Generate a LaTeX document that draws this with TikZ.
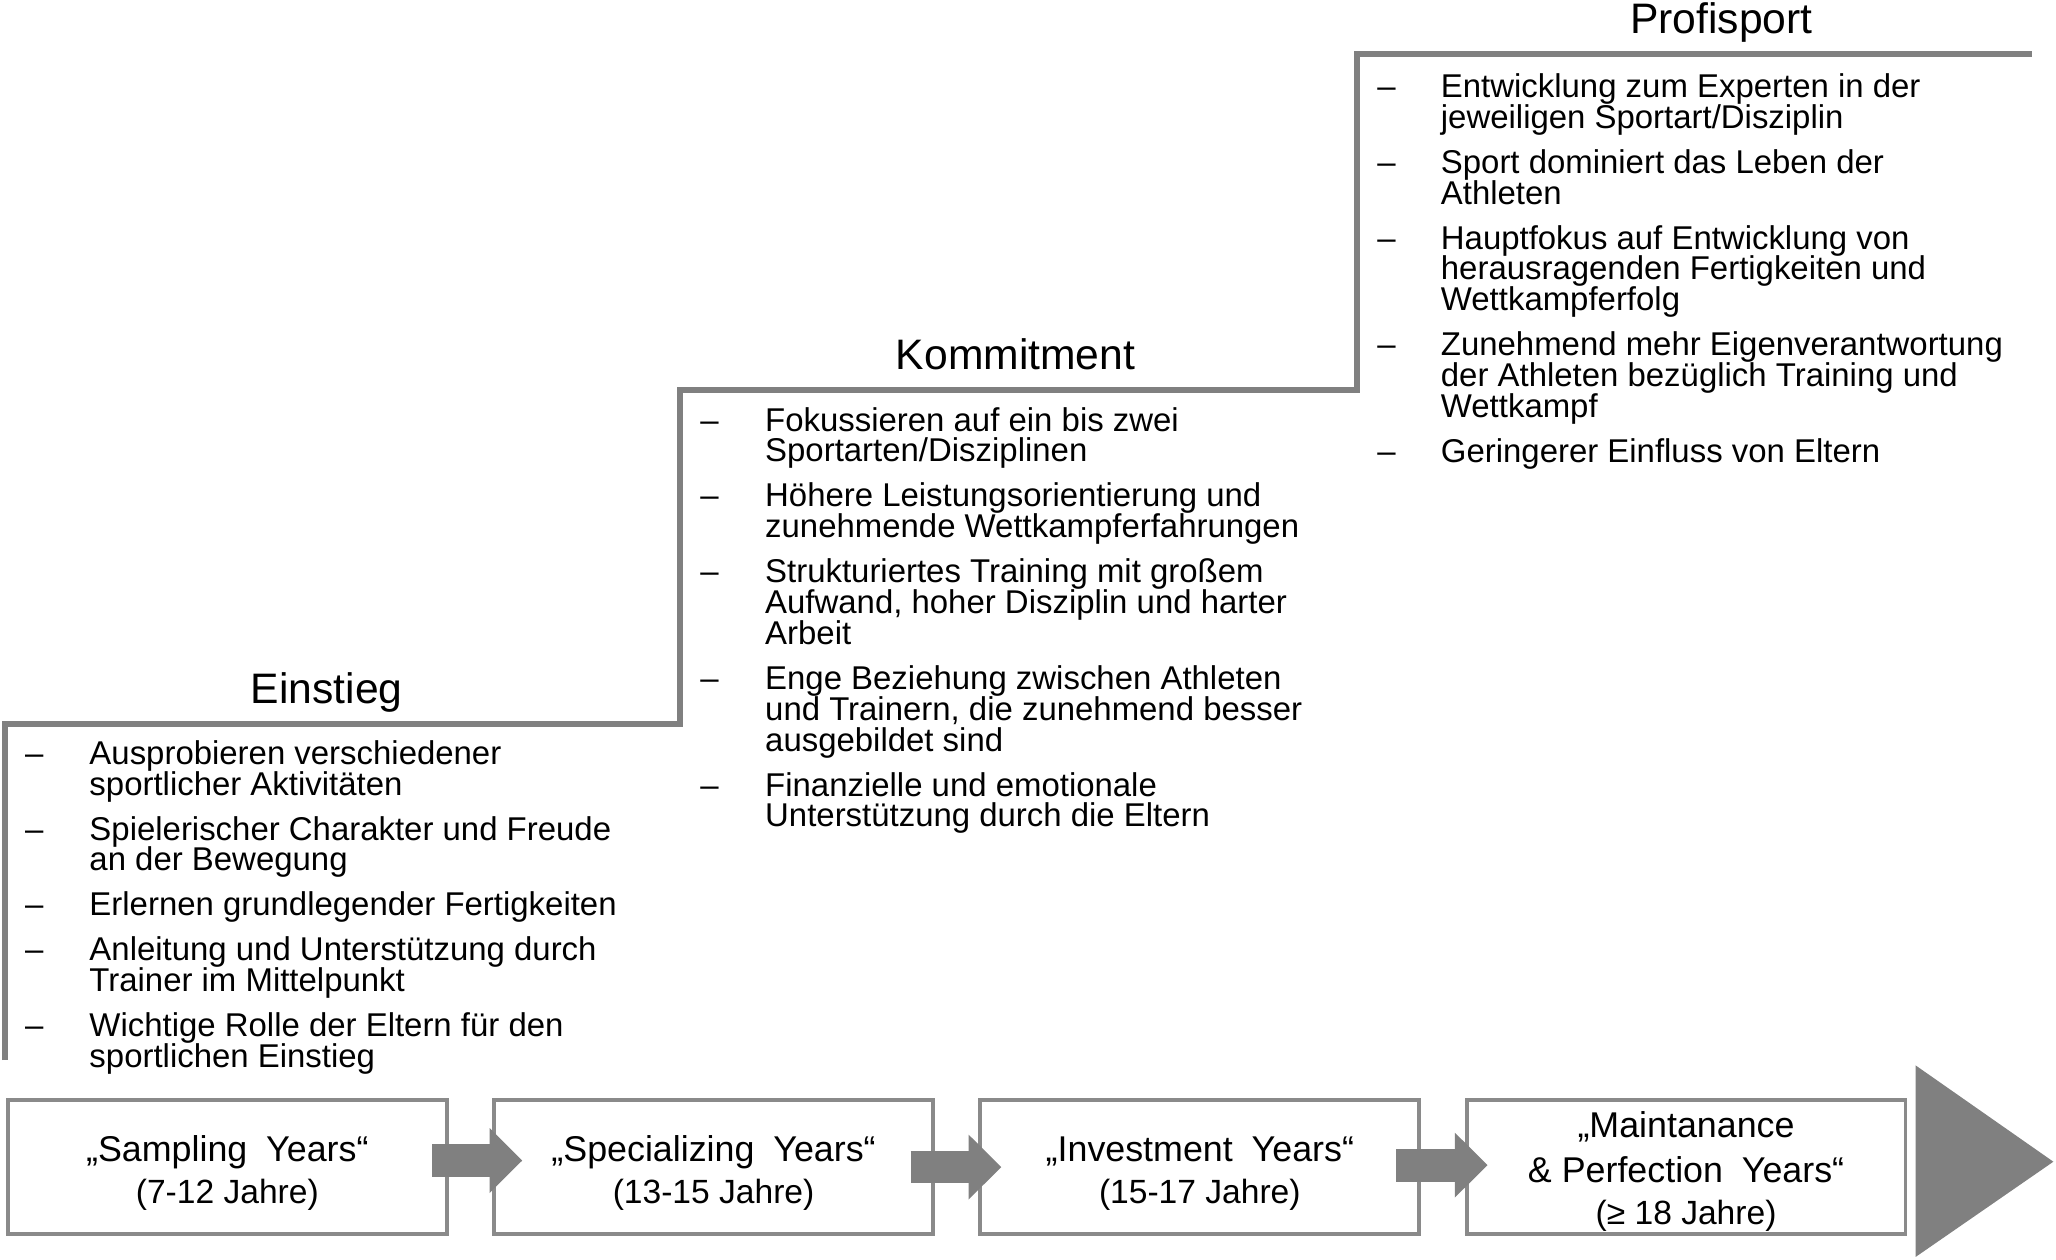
\documentclass[tikz,border=0pt]{standalone}
\usepackage{fontspec}
\setmainfont{Liberation Sans}
\usetikzlibrary{arrows.meta,calc}
\definecolor{linegray}{HTML}{808080}
\definecolor{boxgray}{HTML}{8A8A8A}
\tikzset{
  itemtext/.style={anchor=base west, inner sep=0pt, font=\fontsize{25.1}{23.5}\selectfont},
  dashtext/.style={anchor=base west, inner sep=0pt, font=\fontsize{25.1}{23.5}\selectfont},
  heading/.style={anchor=base, inner sep=0pt, font=\fontsize{32.5}{34}\selectfont},
  yearbox/.style={draw=boxgray, line width=3pt, minimum width=334.5pt, minimum height=102pt, inner sep=0pt, outer sep=0pt},
  boxtitle/.style={anchor=base, inner sep=0pt, font=\fontsize{27.3}{30}\selectfont},
  boxage/.style={anchor=base, inner sep=0pt, font=\fontsize{25.6}{30}\selectfont},
  stair/.style={draw=linegray, line width=4.5pt},
  blockarrow/.style={draw=linegray, line width=25pt, -{Triangle[length=25pt, width=48pt]}}
}
\newcommand{\bulletitem}[5]{%
  \node[dashtext] (#1d) at (#2,#4) {–};
  \node[itemtext] (#1) at (#3,#4) {\vtop{\baselineskip=23.5pt\lineskiplimit=-100pt\lineskip=0pt #5}};}
\begin{document}
\begin{tikzpicture}[x=1pt,y=-1pt]
\useasboundingbox (0,0) rectangle (1567,960);

% stair line
\draw[stair] (3.8,808) -- (3.8,552) -- (518,552) -- (518,297) -- (1034,297) -- (1034,41) -- (1549,41);

% headings
\node[heading] (hE) at (249,536) {Einstieg};
\node[heading] (hK) at (774,281.5) {Kommitment};
\node[heading] (hP) at (1312,25.4) {Profisport};

% Einstieg
\bulletitem{e1}{19}{68}{582.5}{\hbox{Ausprobieren verschiedener}\hbox{sportlicher Aktivitäten}}
\bulletitem{e2}{19}{68}{640.3}{\hbox{Spielerischer Charakter und Freude}\hbox{an der Bewegung}}
\bulletitem{e3}{19}{68}{698.1}{\hbox{Erlernen grundlegender Fertigkeiten}}
\bulletitem{e4}{19}{68}{732.4}{\hbox{Anleitung und Unterstützung durch}\hbox{Trainer im Mittelpunkt}}
\bulletitem{e5}{19}{68}{790.2}{\hbox{Wichtige Rolle der Eltern für den}\hbox{sportlichen Einstieg}}

% Kommitment
\bulletitem{k1}{533.5}{583}{328.6}{\hbox{Fokussieren auf ein bis zwei}\hbox{Sportarten/Disziplinen}}
\bulletitem{k2}{533.5}{583}{386.4}{\hbox{Höhere Leistungsorientierung und}\hbox{zunehmende Wettkampferfahrungen}}
\bulletitem{k3}{533.5}{583}{444.2}{\hbox{Strukturiertes Training mit großem}\hbox{Aufwand, hoher Disziplin und harter}\hbox{Arbeit}}
\bulletitem{k4}{533.5}{583}{525.5}{\hbox{Enge Beziehung zwischen Athleten}\hbox{und Trainern, die zunehmend besser}\hbox{ausgebildet sind}}
\bulletitem{k5}{533.5}{583}{606.8}{\hbox{Finanzielle und emotionale}\hbox{Unterstützung durch die Eltern}}

% Profisport
\bulletitem{p1}{1049.5}{1098}{74.2}{\hbox{Entwicklung zum Experten in der}\hbox{jeweiligen Sportart/Disziplin}}
\bulletitem{p2}{1049.5}{1098}{132.0}{\hbox{Sport dominiert das Leben der}\hbox{Athleten}}
\bulletitem{p3}{1049.5}{1098}{189.8}{\hbox{Hauptfokus auf Entwicklung von}\hbox{herausragenden Fertigkeiten und}\hbox{Wettkampferfolg}}
\bulletitem{p4}{1049.5}{1098}{271.1}{\hbox{Zunehmend mehr Eigenverantwortung}\hbox{der Athleten bezüglich Training und}\hbox{Wettkampf}}
\bulletitem{p5}{1049.5}{1098}{352.4}{\hbox{Geringerer Einfluss von Eltern}}

% year boxes
\node[yearbox] (b1) at (173.25,889.5) {};
\node[yearbox] (b2) at (543.85,889.5) {};
\node[yearbox] (b3) at (914.45,889.5) {};
\node[yearbox] (b4) at (1285.05,889.5) {};

\node[boxtitle] (b1t) at (173.25,885) {„Sampling\hspace{0.25em} Years“};
\node[boxage]   (b1a) at (173.25,917) {(7-12 Jahre)};
\node[boxtitle] (b2t) at (543.85,885) {„Specializing\hspace{0.25em} Years“};
\node[boxage]   (b2a) at (543.85,917) {(13-15 Jahre)};
\node[boxtitle] (b3t) at (914.45,885) {„Investment\hspace{0.25em} Years“};
\node[boxage]   (b3a) at (914.45,917) {(15-17 Jahre)};
\node[boxtitle] (b4t) at (1285.05,867.3) {„Maintanance};
\node[boxtitle] (b4u) at (1285.05,901.3) {\&\ Perfection\hspace{0.25em} Years“};
\node[boxage]   (b4a) at (1285.05,933) {(≥ 18 Jahre)};

% block arrows
\draw[blockarrow] ($(b1.east)+(-11,-5)$) -- ($(b2.west)+(21.5,-5)$);
\draw[blockarrow] ($(b2.east)+(-17,0)$) -- ($(b3.west)+(16,0)$);
\draw[blockarrow] ($(b3.east)+(-17.7,-1.5)$) -- ($(b4.west)+(16,-1.5)$);

% big timeline triangle
\fill[linegray] (1460,812) -- (1460,958) -- (1565,885.4) -- cycle;
\end{tikzpicture}
\end{document}
